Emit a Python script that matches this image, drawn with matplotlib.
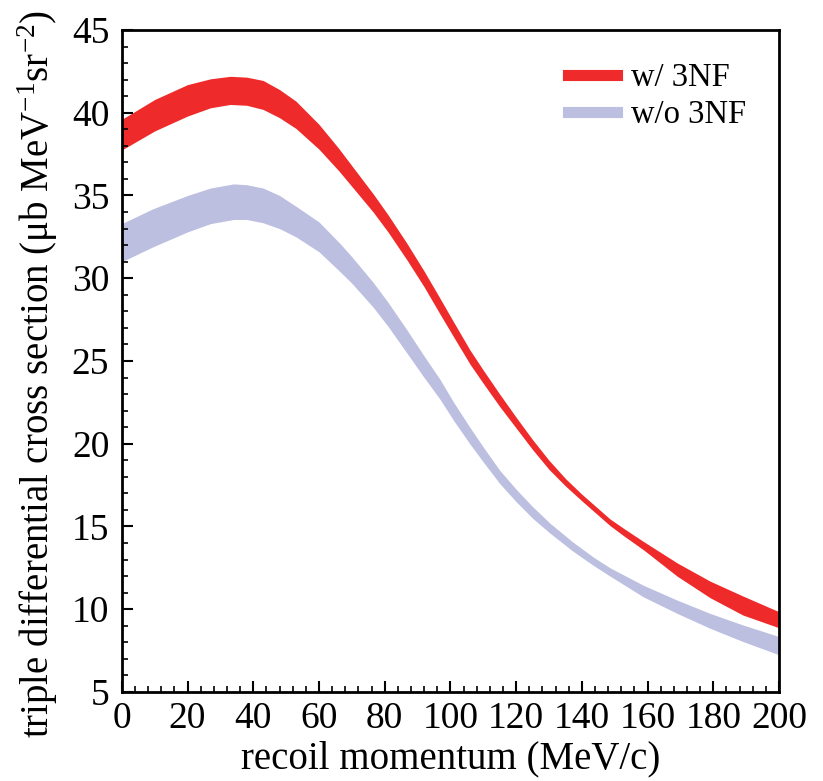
import numpy as np
import matplotlib
matplotlib.use("Agg")
import matplotlib.pyplot as plt
from matplotlib.lines import Line2D

plt.rcParams['font.family'] = ['Liberation Serif', 'DejaVu Serif']
plt.rcParams['mathtext.fontset'] = 'custom'
plt.rcParams['mathtext.rm'] = 'Liberation Serif'
plt.rcParams['mathtext.it'] = 'Liberation Serif:italic'

# recoil momentum (MeV/c), w/ 3NF band
p_with = [0, 10, 20, 27, 33, 38, 43, 48, 53, 60, 66, 70, 76.5, 81, 86.7, 92, 96.8, 101, 106, 110, 115, 120, 125, 130,
          135, 140, 148.6, 153, 158.7, 169, 179, 189, 200]
with_hi = [39.6, 40.8, 41.7, 42.05, 42.2, 42.15, 41.95, 41.4, 40.7, 39.3, 37.85, 36.8, 35.1, 33.84, 32.13, 30.43, 28.8,
           27.35, 25.65, 24.45, 23.0, 21.6, 20.25, 19.0, 17.9, 16.95, 15.45, 14.85, 14.1, 12.8, 11.7, 10.8, 9.85]
with_lo = [37.75, 38.9, 39.8, 40.3, 40.5, 40.45, 40.2, 39.7, 39.05, 37.8, 36.5, 35.55, 34.0, 32.8, 31.13, 29.48, 27.85,
           26.45, 24.8, 23.65, 22.25, 20.95, 19.65, 18.45, 17.45, 16.55, 15.05, 14.4, 13.6, 12.0, 10.7, 9.65, 8.88]

# recoil momentum (MeV/c), w/o 3NF band
p_wo = [0, 9.5, 20, 27, 34, 38, 43, 48, 53, 60, 66.4, 70, 76.5, 81, 86.7, 92, 96.8, 101, 105.9, 110, 115, 120, 125,
        130.3, 137, 143.5, 148.6, 158.7, 169, 179, 189, 200]
wo_hi = [33.3, 34.2, 35.0, 35.45, 35.7, 35.65, 35.45, 35.0, 34.35, 33.4, 32.1, 31.3, 29.75, 28.55, 26.9, 25.3, 23.9,
         22.5, 21.0, 19.8, 18.4, 17.25, 16.2, 15.2, 14.1, 13.15, 12.5, 11.45, 10.55, 9.75, 9.05, 8.35]
wo_lo = [31.0, 31.9, 32.8, 33.3, 33.55, 33.55, 33.35, 33.0, 32.5, 31.6, 30.4, 29.7, 28.25, 27.1, 25.5, 24.0, 22.7,
         21.4, 20.0, 18.9, 17.6, 16.5, 15.5, 14.6, 13.55, 12.65, 12.0, 10.75, 9.75, 8.85, 8.05, 7.25]

red = '#ee2b2a'
blue = '#bcbfe0'

fig = plt.figure(figsize=(8.23, 7.81), dpi=100)
ax = fig.add_axes([0.148, 0.114, 0.7985, 0.8476])

ax.fill_between(p_with, with_lo, with_hi, color=red, lw=0)
ax.fill_between(p_wo, wo_lo, wo_hi, color=blue, lw=0)

ax.set_xlim(0, 200)
ax.set_ylim(5, 45)
ax.set_xticks(np.arange(0, 201, 20))
ax.set_xticks(np.arange(0, 201, 4), minor=True)
ax.set_yticks(np.arange(5, 46, 5))
ax.set_yticks(np.arange(5, 46, 1), minor=True)

ax.tick_params(which='both', direction='in', top=False, right=False, labelsize=27)
ax.tick_params(which='major', length=8, width=1.5)
ax.tick_params(which='minor', length=4, width=1.2)
ax.tick_params(axis='y', pad=9)
ax.tick_params(axis='x', pad=7)
for s in ax.spines.values():
    s.set_linewidth(2)

ax.set_xlabel('recoil momentum (MeV/c)', fontsize=28, labelpad=3)
ax.set_ylabel(r'triple differential cross section ($\mathrm{\mu}$b MeV$^{-1}$sr$^{-2}$)', fontsize=28)
ax.yaxis.set_label_coords(-0.094, 0.48)

handles = [Line2D([], [], color=red, lw=8), Line2D([], [], color=blue, lw=8)]
ax.legend(handles, ['w/ 3NF', 'w/o 3NF'], loc='upper right', frameon=False, fontsize=23.5,
          handlelength=1.5, handletextpad=0.45, labelspacing=0.2, borderaxespad=0.6, borderpad=0.4)

fig.savefig('out.png', dpi=100)
